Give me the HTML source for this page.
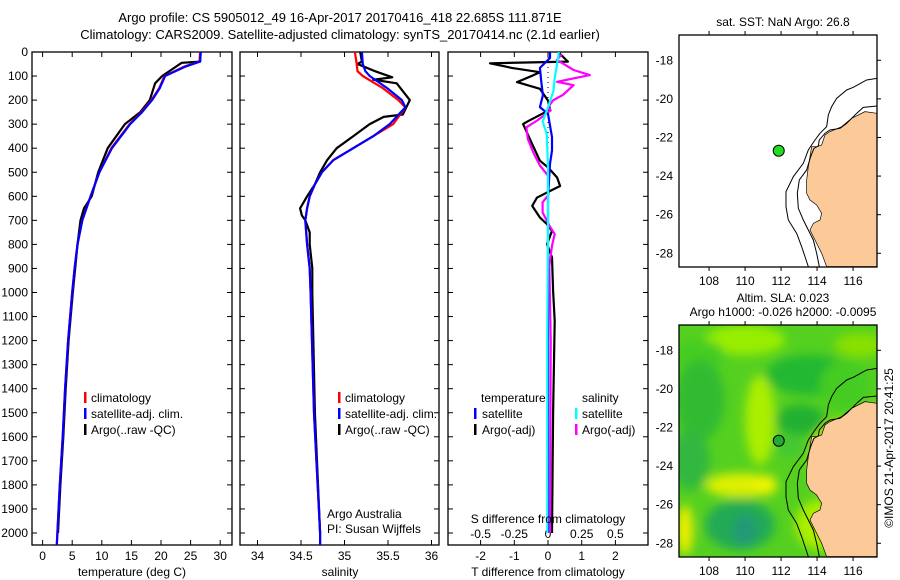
<!DOCTYPE html>
<html><head><meta charset="utf-8"><style>
body{margin:0;background:#fff;}
svg{display:block;font-family:"Liberation Sans",sans-serif;}
</style></head><body>
<svg id="c" width="900" height="580" xmlns="http://www.w3.org/2000/svg">
<text x="340" y="22" font-size="13" text-anchor="middle">Argo profile: CS 5905012_49 16-Apr-2017 20170416_418 22.685S 111.871E</text>
<text x="340" y="39" font-size="13" text-anchor="middle">Climatology: CARS2009. Satellite-adjusted climatology: synTS_20170414.nc (2.1d earlier)</text>
<g id="plots"></g>
<g id="maps"></g>
<text transform="translate(893,448) rotate(-90)" font-size="12" text-anchor="middle">©IMOS 21-Apr-2017 20:41:25</text>
</svg>
<script>
// ---- data ----
const climDepth = [0,40,60,100,150,200,250,300,400,500,600,700,800,900,1000,1200,1400,1600,1800,2000,2050];
const climTemp  = [26.6,26.5,24,20.6,19.7,18.4,16.7,14.7,11.6,9.6,8.1,6.7,5.9,5.4,5.0,4.3,3.8,3.4,2.9,2.5,2.4];
const satTemp   = [26.7,26.6,24.2,20.7,19.8,18.5,16.8,14.8,11.7,9.6,8.1,6.7,5.9,5.4,5.0,4.3,3.8,3.4,2.9,2.5,2.4];
const argoDepth = [0,40,45,60,100,130,200,250,300,400,500,600,650,700,800,900,1000,1200,1400,1600,1800,2000];
const argoTemp  = [26.7,26.6,23.5,22.6,20.2,19.0,18.1,16.5,13.9,11.0,9.4,8.3,7.0,6.4,5.9,5.5,5.1,4.4,3.9,3.5,3.0,2.6];

const salDepth  = [0,50,80,100,150,200,230,300,350,400,450,500,550,600,650,700,800,900,1000,1500,2000,2050];
const climSal   = [35.12,35.14,35.15,35.21,35.44,35.62,35.70,35.56,35.33,35.10,34.87,34.74,34.66,34.60,34.57,34.55,34.57,34.60,34.61,34.65,34.72,34.72];
const satSal    = [35.20,35.21,35.24,35.29,35.49,35.66,35.70,35.52,35.33,35.10,34.87,34.74,34.66,34.60,34.57,34.55,34.57,34.60,34.61,34.65,34.72,34.72];
const argoSalDepth = [0,40,50,80,105,115,130,200,260,270,300,350,400,450,500,550,600,650,680,700,750,800,900,1000,1500,2000];
const argoSal   = [35.18,35.2,35.15,35.35,35.55,35.33,35.6,35.75,35.67,35.45,35.29,35.1,34.91,34.8,34.72,34.66,34.57,34.49,34.51,34.55,34.6,34.6,34.63,34.63,34.66,34.72];

const tdDepth = [0,40,47,66,84,97,125,153,202,240,290,300,383,452,480,522,557,578,606,640,688,716,744,799,854,993,1118,1500,2000];
const tdArgo  = [0.3,0.59,-1.72,-1.07,-0.24,-0.44,-0.92,-0.24,0,0.06,-0.62,-0.74,-0.47,-0.24,0,0.27,0.36,0.06,-0.33,-0.47,-0.24,-0.03,0.12,-0.03,0.12,0.15,0.2,0.15,0.12];
const tdSatDepth = [0,25,66,124,180,229,257,354,410,465,604,1000,2000];
const tdSat   = [0.06,0.06,-0.24,-0.2,-0.15,-0.24,0,0.12,0.12,0.06,0,0,0];
const sdDepth = [10,33,75,96,124,138,179,200,229,243,285,313,361,417,472,514,597,625,667,722,757,806,889,1200,2000];
const sdArgo  = [0.1,0.067,0.19,0.31,0.067,0.19,0.11,0.04,0,0.02,-0.08,-0.16,-0.15,-0.11,-0.06,0,0,-0.04,-0.04,0.01,0.05,0.03,0.01,0.02,0.015];
const sdSatDepth = [0,25,108,163,246,288,340,478,754,1170,2000];
const sdSat   = [0.08,0.075,0.05,0.04,-0.01,-0.04,-0.01,0,0,-0.005,-0.005];

const depthTicks = [0,100,200,300,400,500,600,700,800,900,1000,1100,1200,1300,1400,1500,1600,1700,1800,1900,2000];
const tTicks = [0,5,10,15,20,25,30];
const sTicks = [34,34.5,35,35.5,36];
const tdTicks = [-2,-1,0,1,2];
const sdTicks = [-0.5,-0.25,0,0.25,0.5];
const sdTickLabels = ['-0.5','-0.25','0','0.25','0.5'];
const lonTicks = [108,110,112,114,116];
const latTicks = [-18,-20,-22,-24,-26,-28];
const argoLon = 111.871, argoLat = -22.685;

// ---- scales ----
const Y0=52, YB=545, DY=0.2405;
const yD = d => Y0 + d*DY;
const xT = t => 42.6 + t*5.92;
const xS = s => 257.5 + (s-34)*87;
const xTD = v => 548 + v*33.7;
const xSD = v => 548 + v*134.8;

const NS='http://www.w3.org/2000/svg';
function mk(tag, attrs, parent){const e=document.createElementNS(NS,tag);for(const k in attrs)e.setAttribute(k,attrs[k]);parent.appendChild(e);return e;}
const plots=document.getElementById('plots');

function frame(x0,x1,name){
  const r=mk('rect',{x:x0,y:Y0,width:x1-x0,height:YB-Y0,fill:'none',stroke:'#000','stroke-width':1.3},plots);
  
  
  depthTicks.forEach(d=>{
    mk('line',{x1:x0,x2:x0+5,y1:yD(d),y2:yD(d),stroke:'#000'},plots);
    mk('line',{x1:x1-5,x2:x1,y1:yD(d),y2:yD(d),stroke:'#000'},plots);
  });
}
function xticks(vals,labels,fx,name,ly){
  vals.forEach((v,i)=>{
    const x=fx(v);
    mk('line',{x1:x,x2:x,y1:Y0,y2:Y0+5,stroke:'#000'},plots);
    mk('line',{x1:x,x2:x,y1:YB-5,y2:YB,stroke:'#000'},plots);
    const t=mk('text',{x:x,y:ly,'font-size':12,'text-anchor':'middle'},plots);
    t.textContent=labels[i];
    
    
  });
}
function line(xs,ds,fx,color,name,w){
  const p=mk('polyline',{points:xs.map((v,i)=>fx(v).toFixed(1)+','+yD(ds[i]).toFixed(1)).join(' '),fill:'none',stroke:color,'stroke-width':w||2.2,'stroke-linejoin':'round'},plots);
  
  
}
function txt(x,y,s,name,anchor,size){
  const t=mk('text',{x:x,y:y,'font-size':size||12,'text-anchor':anchor||'start'},plots);
  t.textContent=s;
  
  
}
function legBar(x,y,color){mk('rect',{x:x,y:y-10,width:2.5,height:11,fill:color},plots);}

depthTicks.forEach(d=>{txt(28,yD(d)+4,String(d),'depth-tick-label','end',12);});

// panel 1
frame(32,232,'temperature-panel');
xticks(tTicks,tTicks.map(String),xT,'temperature-tick-label',560);
line(argoTemp,argoDepth,xT,'#000','argo-temperature-line');
line(climTemp,climDepth,xT,'#f00','climatology-temperature-line');
line(satTemp,climDepth,xT,'#00f','satellite-temperature-line');
txt(132,576,'temperature (deg C)','temperature-axis-title','middle');
legBar(84,402,'#f00');txt(91,402,'climatology','legend-climatology');
legBar(84,418,'#00f');txt(91,418,'satellite-adj. clim.','legend-satellite');
legBar(84,434,'#000');txt(91,434,'Argo(..raw -QC)','legend-argo');

// panel 2
frame(240,439,'salinity-panel');
xticks(sTicks,sTicks.map(String),xS,'salinity-tick-label',560);
line(argoSal,argoSalDepth,xS,'#000','argo-salinity-line');
line(climSal,salDepth,xS,'#f00','climatology-salinity-line');
line(satSal,salDepth,xS,'#00f','satellite-salinity-line');
txt(340,576,'salinity','salinity-axis-title','middle');
legBar(338,402,'#f00');txt(345,402,'climatology','legend-climatology');
legBar(338,418,'#00f');txt(345,418,'satellite-adj. clim.','legend-satellite');
legBar(338,434,'#000');txt(345,434,'Argo(..raw -QC)','legend-argo');
txt(327,518,'Argo Australia','credit-argo-australia');
txt(327,533,'PI: Susan Wijffels','credit-pi');

// panel 3
frame(448,648,'difference-panel');
xticks(tdTicks,tdTicks.map(String),xTD,'t-diff-tick-label',560);
sdTicks.forEach((v,i)=>{txt(xSD(v),538,sdTickLabels[i],'s-diff-tick-label','middle');});
mk('line',{x1:548,x2:548,y1:Y0,y2:200,stroke:'#000','stroke-dasharray':'1,4'},plots);
line(tdArgo,tdDepth,xTD,'#000','argo-temperature-diff-line');
line(sdArgo,sdDepth,xSD,'#f0f','argo-salinity-diff-line');
line(tdSat,tdSatDepth,xTD,'#00f','satellite-temperature-diff-line');
line(sdSat,sdSatDepth,xSD,'#0ff','satellite-salinity-diff-line');
txt(548,576,'T difference from climatology','t-diff-axis-title','middle');
txt(548,523,'S difference from climatology','s-diff-axis-title','middle');
txt(481,402,'temperature','legend-temperature-header');
legBar(474,418,'#00f');txt(482,418,'satellite','legend-temperature-satellite');
legBar(474,434,'#000');txt(482,434,'Argo(-adj)','legend-temperature-argo');
txt(582,402,'salinity','legend-salinity-header');
legBar(575,418,'#0ff');txt(582,418,'satellite','legend-salinity-satellite');
legBar(575,434,'#f0f');txt(582,434,'Argo(-adj)','legend-salinity-argo');

// ---- maps ----
const maps=document.getElementById('maps');
const MX0=679, MX1=877, LON0=106.33, PXLON=18, PXLAT=19.3, LAT0=-16.69;
const mxL = lon => MX0 + (lon-LON0)*PXLON;
const myL = (lat,top) => top + (LAT0-lat)*PXLAT;
const landPts="652,340 615,335 575,355 545,380 510,395 495,405 485,435 470,440 455,440 450,470 445,500 440,540 440,580 450,600 470,615 485,640 480,660 460,670 450,690 465,720 485,760 500,800 652,800";
const outerC="652,235 620,240 580,262 560,270 530,295 515,320 505,345 500,380 480,400 465,420 445,450 430,490 400,530 378,575 378,620 385,660 410,700 425,740 435,770 445,800";
const innerC="652,318 610,322 590,340 560,370 540,385 510,390 495,400 478,420 475,438 462,445 452,470 440,510 418,540 412,580 415,625 430,660 445,690 460,720 470,760 478,800";

function drawMap(top,name,heat){
  const g=mk('g',{},maps);
  
  
  const cid='clip'+top;
  const cp=mk('clipPath',{id:cid},g);
  mk('rect',{x:MX0,y:top,width:MX1-MX0,height:232},cp);
  const inner=mk('g',{'clip-path':'url(#'+cid+')'},g);
  if(heat){
    mk('rect',{x:MX0,y:top,width:MX1-MX0,height:232,fill:'#55d020'},inner);
    const hf=mk('filter',{id:'blur',x:'-50%',y:'-50%',width:'200%',height:'200%'},g);
    mk('feGaussianBlur',{stdDeviation:5},hf);
    const hb=mk('g',{filter:'url(#blur)'},inner);
    const blobs=[[745,15,40,15,'#99ee00'],[860,20,25,12,'#88e000'],[700,30,25,15,'#44cc22'],[810,50,45,20,'#22b830'],[700,75,25,40,'#33bb33'],[690,135,20,30,'#33b840'],[760,95,15,45,'#aaee00'],[800,95,25,15,'#22b030'],[790,120,15,12,'#44c830'],[740,160,35,12,'#ddf000'],[765,160,12,10,'#eef400'],[740,200,35,25,'#22aa55'],[745,205,12,15,'#229977'],[840,135,30,40,'#bbee00'],[685,205,8,25,'#eeee00'],[820,200,25,25,'#aaee00'],[845,60,25,25,'#44cc22'],[870,100,15,20,'#99e800']];
    blobs.forEach(b=>mk('ellipse',{cx:b[0],cy:top+b[1],rx:b[2],ry:b[3],fill:b[4]},hb));
  }
  const t=mk('g',{transform:'translate(660,'+(top-35)+') scale(0.3333)'},inner);
  mk('polygon',{points:landPts,fill:'#fcc998',stroke:'#000','stroke-width':2},t);
  mk('polyline',{points:outerC,fill:'none',stroke:'#000','stroke-width':3},t);
  mk('polyline',{points:innerC,fill:'none',stroke:'#000','stroke-width':3},t);
  mk('rect',{x:MX0,y:top,width:MX1-MX0,height:232,fill:'none',stroke:'#000','stroke-width':1.3},g);
  lonTicks.forEach(l=>{
    const x=mxL(l);
    mk('line',{x1:x,x2:x,y1:top,y2:top-4,stroke:'#000'},g);
    mk('line',{x1:x,x2:x,y1:top+232,y2:top+236,stroke:'#000'},g);
    const tx=mk('text',{x:x,y:top+250,'font-size':12,'text-anchor':'middle'},g);
    tx.textContent=String(l);
    
    
  });
  latTicks.forEach(l=>{
    const y=myL(l,top);
    mk('line',{x1:MX1,x2:MX1+4,y1:y,y2:y,stroke:'#000'},g);
    const tx=mk('text',{x:MX0-6,y:y+4,'font-size':12,'text-anchor':'end'},g);
    tx.textContent=String(l);
    
    
  });
  const c=mk('circle',{cx:mxL(argoLon),cy:myL(argoLat,top),r:5.5,fill:heat?'#22aa33':'#22dd22',stroke:'#000','stroke-width':1},g);
  
  
}
drawMap(35,'sst-map',false);
drawMap(325,'sla-map',true);
function mtxt(x,y,s,name){const t=mk('text',{x:x,y:y,'font-size':12,'text-anchor':'middle'},maps);t.textContent=s;
  
  }
mtxt(783,26,'sat. SST: NaN Argo: 26.8','sst-map-title');
mtxt(783,302,'Altim. SLA: 0.023','sla-map-title');
mtxt(783,316,'Argo h1000: -0.026 h2000: -0.0095','sla-map-subtitle');
</script>
</body></html>
